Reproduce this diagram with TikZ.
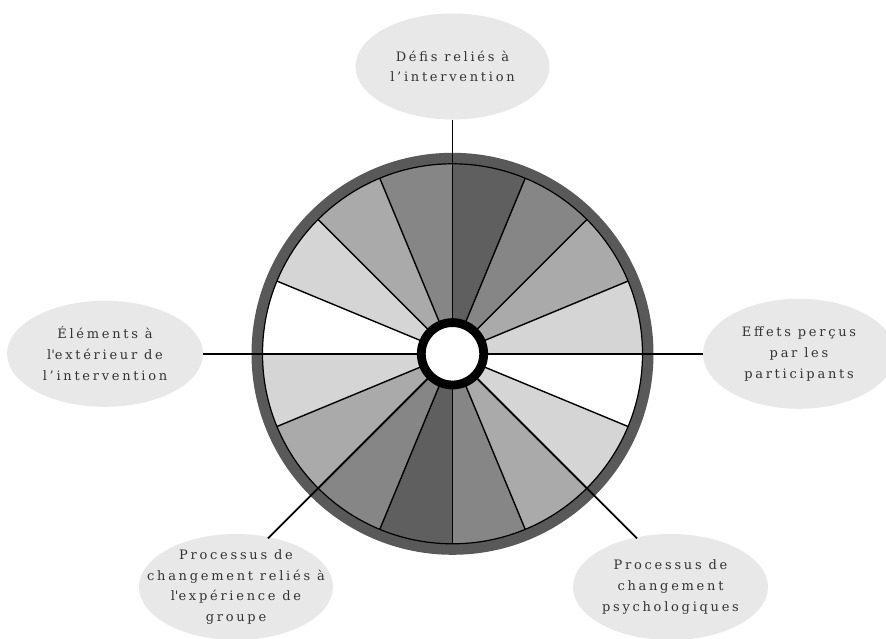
\documentclass[tikz,border=0pt]{standalone}
\usepackage{fontspec}
\setmainfont{DejaVu Serif}[LetterSpace=21]
\usetikzlibrary{calc,shapes.geometric}
\definecolor{cdark}{HTML}{5F5F5F}
\definecolor{cmed}{HTML}{868686}
\definecolor{clight}{HTML}{AAAAAA}
\definecolor{clighter}{HTML}{D5D5D5}
\definecolor{cring}{HTML}{595959}
\definecolor{cbubble}{HTML}{E8E8E8}
\definecolor{ctext}{HTML}{333333}
\newcommand{\sq}{\textquotesingle}
\tikzset{
  bubble/.style={ellipse, fill=cbubble, draw=none, inner xsep=-30pt, inner ysep=-10pt,
    minimum width=#1, minimum height=106pt, align=center, text=ctext,
    font=\fontsize{13}{20.8}\selectfont},
  bubble/.default=194pt,
  spoke/.style={line width=1.4pt, black},
  link/.style={line width=1.8pt, black},
}
\begin{document}
\begin{tikzpicture}[x=1pt,y=1pt]
\useasboundingbox (0,0) rectangle (886,639);
\fill[white] (0,0) rectangle (886,639);
\coordinate (c) at (452.5,285.2);
% sectors
\foreach \k/\col in {0/cdark,1/cmed,2/clight,3/clighter,4/white,5/clighter,6/clight,7/cmed,
                     8/cdark,9/cmed,10/clight,11/clighter,12/white,13/clighter,14/clight,15/cmed}{
  \pgfmathsetmacro{\a}{90-22.5*\k}
  \pgfmathsetmacro{\b}{\a-22.5}
  \fill[\col] (c) -- ($(c)+(\a:190)$) arc[start angle=\a, end angle=\b, radius=190] -- cycle;
}
\foreach \k in {0,...,15}{
  \draw[spoke] (c) -- ($(c)+(90-22.5*\k:190)$);
}
% outer ring
\draw[line width=11pt, cring] (c) circle (195.5);
\draw[line width=1.2pt, black] (c) circle (190);
% bubbles
\node[bubble] (top) at (452.5,572.5) {Défis reliés à\\l’intervention};
\node[bubble=196pt] (left) at (105,285.2) {Éléments à\\l\sq extérieur de\\l’intervention};
\node[bubble=192pt, minimum height=110pt] (right) at (799,285.2) {Effets perçus\\par les\\participants};
\node[bubble] (bl) at (236,52) {Processus de\\changement reliés à\\l\sq expérience de\\groupe};
\node[bubble=195pt] (br) at (670.5,52) {Processus de\\changement\\psychologiques};
% connector ends
\coordinate (blend) at ($(c)+(225:261)$);
\coordinate (brend) at ($(c)+(315:261)$);
% connectors
\draw[link] (top.south) -- (c);
\draw[link] (left.east) -- (c);
\draw[link] (right.west) -- (c);
\draw[link] (blend) -- (c);
\draw[link] (brend) -- (c);
% hub
\fill[white] (c) circle (31);
\draw[line width=8.8pt, black] (c) circle (31.2);
\end{tikzpicture}
\end{document}
